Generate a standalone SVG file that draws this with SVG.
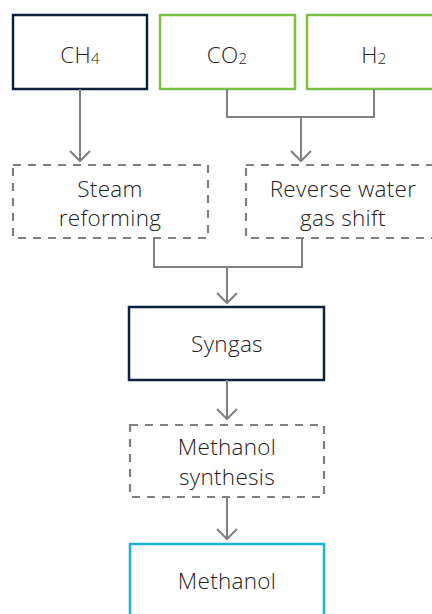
<svg xmlns="http://www.w3.org/2000/svg" width="432" height="614" viewBox="0 0 432 614">
  <style>
    .box { fill: #ffffff; stroke-width: 2.5; }
    .navy { stroke: #0e2240; }
    .green { stroke: #7cc242; }
    .cyan { stroke: #1cb1de; }
    .dash { fill: #ffffff; stroke: #808080; stroke-width: 2.2; stroke-dasharray: 8 7; }
    .label { font-family: "Open Sans", "Liberation Sans", sans-serif; font-size: 22.5px; font-weight: 350; letter-spacing: 0.3px; fill: #222222; text-anchor: middle; }
    .sub { font-size: 15px; }
    .wire { fill: none; stroke: #808080; stroke-width: 2; }
  </style>
  <defs>
    <marker id="chevron" markerUnits="userSpaceOnUse" markerWidth="14" markerHeight="24" viewBox="-2 -2 14 24" refX="10" refY="10" orient="auto">
      <path d="M0,0 L10,10 L0,20" fill="none" stroke="#808080" stroke-width="2"/>
    </marker>
  </defs>

  <!-- feedstocks -->
  <g id="ch4">
    <rect class="box navy" x="13" y="15" width="134" height="74"/>
    <text class="label" x="80" y="63">CH<tspan class="sub" dy="1">4</tspan></text>
  </g>
  <g id="co2">
    <rect class="box green" x="160" y="15" width="135" height="74"/>
    <text class="label" x="227" y="63">CO<tspan class="sub" dy="1">2</tspan></text>
  </g>
  <g id="h2">
    <rect class="box green" x="307" y="15" width="135" height="74"/>
    <text class="label" x="374" y="63">H<tspan class="sub" dy="1">2</tspan></text>
  </g>

  <!-- conversion steps -->
  <g id="steam-reforming">
    <rect class="dash" x="13" y="165" width="195" height="73"/>
    <text class="label" x="110" y="197">Steam</text>
    <text class="label" x="110" y="226">reforming</text>
  </g>
  <g id="rwgs">
    <rect class="dash" x="246" y="165" width="195" height="73"/>
    <text class="label" x="343" y="197">Reverse water</text>
    <text class="label" x="343" y="226">gas shift</text>
  </g>

  <g id="syngas">
    <rect class="box navy" x="129" y="307" width="195" height="73"/>
    <text class="label" x="227" y="352">Syngas</text>
  </g>

  <g id="methanol-synthesis">
    <rect class="dash" x="130" y="425" width="194" height="72"/>
    <text class="label" x="227" y="455">Methanol</text>
    <text class="label" x="227" y="485">synthesis</text>
  </g>

  <g id="methanol">
    <rect class="box cyan" x="130" y="544" width="194" height="80"/>
    <text class="label" x="227" y="589">Methanol</text>
  </g>

  <!-- connectors -->
  <g id="connectors">
    <path class="wire" d="M80,89 V161" marker-end="url(#chevron)"/>
    <path class="wire" d="M227,89 V117 H374 V89"/>
    <path class="wire" d="M301,117 V161" marker-end="url(#chevron)"/>
    <path class="wire" d="M154,238 V267 H302 V238"/>
    <path class="wire" d="M227,267 V303" marker-end="url(#chevron)"/>
    <path class="wire" d="M227,380 V419" marker-end="url(#chevron)"/>
    <path class="wire" d="M227,497 V539" marker-end="url(#chevron)"/>
  </g>
</svg>
